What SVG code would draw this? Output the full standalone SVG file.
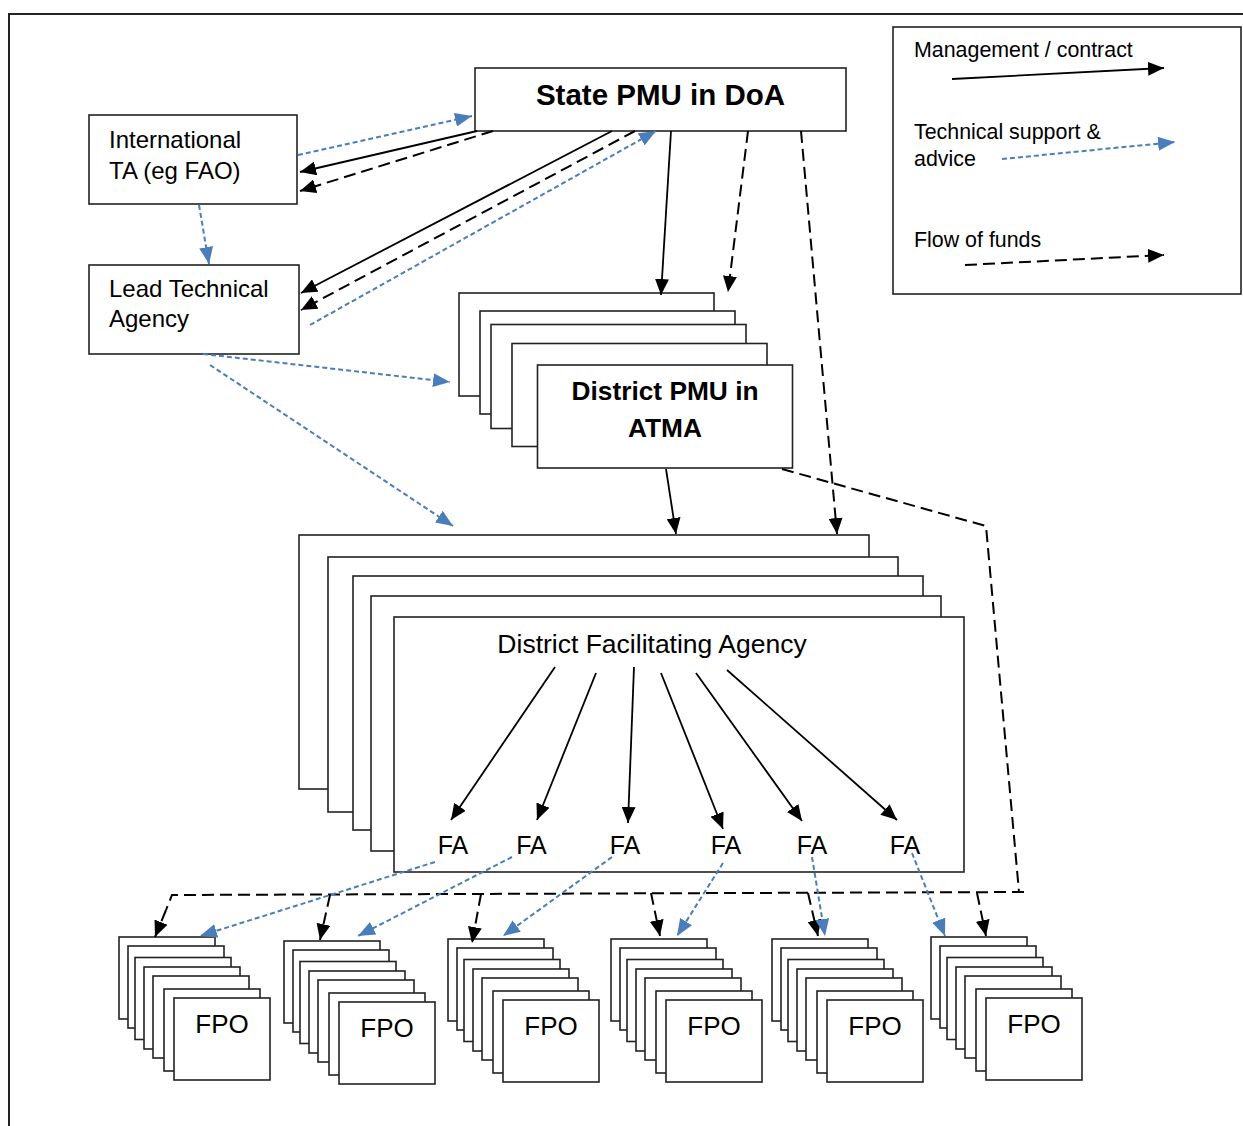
<svg xmlns="http://www.w3.org/2000/svg" width="1243" height="1126" viewBox="0 0 1243 1126">
<style>
  text { font-family: "Liberation Sans", Arial, sans-serif; fill: #000; }
  .box { fill: #fff; stroke: #222; stroke-width: 1.6; }
  .frame { fill: none; stroke: #222; stroke-width: 2; }
  .lbl { font-size: 24px; }
  .leg { font-size: 21.4px; }
  .bold { font-weight: bold; }
  .fa { font-size: 25px; text-anchor: middle; }
  .fpo { font-size: 26px; text-anchor: middle; }
  .mgmt { fill: none; stroke: #000; stroke-width: 1.8; marker-end: url(#ah-black); }
  .fund { fill: none; stroke: #000; stroke-width: 2; stroke-dasharray: 12 6; }
  .fund-a { fill: none; stroke: #000; stroke-width: 2; stroke-dasharray: 12 6; marker-end: url(#ah-black); }
  .tech { fill: none; stroke: #4A7EBB; stroke-width: 2; stroke-dasharray: 5 3; marker-end: url(#ah-blue); }
</style>
<defs>
  <marker id="ah-black" markerUnits="userSpaceOnUse" markerWidth="17" markerHeight="14" refX="16" refY="7" orient="auto">
    <path d="M0,0 L16,7 L0,14 z" fill="#000"/>
  </marker>
  <marker id="ah-blue" markerUnits="userSpaceOnUse" markerWidth="18" markerHeight="14" refX="17" refY="7" orient="auto">
    <path d="M0,0 L17,7 L0,14 z" fill="#4A7EBB"/>
  </marker>
</defs>

<rect width="1243" height="1126" fill="#fff"/>
<path class="frame" d="M9,1126 L9,14 L1243,14"/>

<g id="legend">
  <rect class="box" x="893" y="27" width="348" height="267"/>
  <text class="leg" x="914" y="57">Management / contract</text>
  <line class="mgmt" x1="952" y1="79" x2="1164" y2="68"/>
  <text class="leg" x="914" y="139">Technical support &amp;</text>
  <text class="leg" x="914" y="166">advice</text>
  <line class="tech" x1="1002" y1="159" x2="1175" y2="142"/>
  <text class="leg" x="914" y="247">Flow of funds</text>
  <line class="fund-a" x1="965" y1="265" x2="1164" y2="255"/>
</g>

<g id="state-pmu">
  <rect class="box" x="475" y="68" width="371" height="63"/>
  <text class="bold" x="660.5" y="105" font-size="29.5" text-anchor="middle">State PMU in DoA</text>
</g>

<g id="international-ta">
  <rect class="box" x="89" y="115" width="208" height="89"/>
  <text class="lbl" x="109" y="148">International</text>
  <text class="lbl" x="109" y="179">TA (eg FAO)</text>
</g>

<g id="lead-technical-agency">
  <rect class="box" x="89" y="265" width="210" height="89"/>
  <text class="lbl" x="109" y="297">Lead Technical</text>
  <text class="lbl" x="109" y="327">Agency</text>
</g>

<g id="district-pmu">
  <rect class="box" x="459" y="293" width="255" height="103"/>
  <rect class="box" x="480" y="311" width="255" height="103"/>
  <rect class="box" x="491" y="324.5" width="255" height="104"/>
  <rect class="box" x="512" y="343.5" width="255" height="103"/>
  <rect class="box" x="537.5" y="365" width="255" height="103"/>
  <text class="bold" x="665" y="400" font-size="26.3" text-anchor="middle">District PMU in</text>
  <text class="bold" x="665" y="437" font-size="26.3" text-anchor="middle">ATMA</text>
</g>

<g id="district-facilitating-agency">
  <rect class="box" x="299" y="535" width="570" height="254"/>
  <rect class="box" x="328" y="557" width="570" height="255"/>
  <rect class="box" x="353" y="576" width="570" height="254"/>
  <rect class="box" x="371" y="596" width="570" height="255"/>
  <rect class="box" x="394" y="617" width="570" height="255"/>
  <text x="652" y="653" font-size="26.5" text-anchor="middle">District Facilitating Agency</text>
</g>

<g id="fa-1"><text class="fa" x="453" y="854">FA</text></g>
<g id="fa-2"><text class="fa" x="531.5" y="854">FA</text></g>
<g id="fa-3"><text class="fa" x="625" y="854">FA</text></g>
<g id="fa-4"><text class="fa" x="726" y="854">FA</text></g>
<g id="fa-5"><text class="fa" x="812" y="854">FA</text></g>
<g id="fa-6"><text class="fa" x="905" y="854">FA</text></g>

<g id="fpo-1">
  <rect class="box" x="119" y="937" width="96" height="82"/>
  <rect class="box" x="128" y="946" width="96" height="82"/>
  <rect class="box" x="135" y="957.5" width="96" height="82"/>
  <rect class="box" x="144" y="967" width="96" height="82"/>
  <rect class="box" x="153" y="976" width="96" height="82"/>
  <rect class="box" x="164" y="989" width="96" height="82"/>
  <rect class="box" x="174" y="998" width="96" height="82"/>
  <text class="fpo" x="222" y="1033">FPO</text>
</g>
<g id="fpo-2">
  <rect class="box" x="284" y="941" width="96" height="82"/>
  <rect class="box" x="293" y="950" width="96" height="82"/>
  <rect class="box" x="300" y="961.5" width="96" height="82"/>
  <rect class="box" x="309" y="971" width="96" height="82"/>
  <rect class="box" x="318" y="980" width="96" height="82"/>
  <rect class="box" x="329" y="993" width="96" height="82"/>
  <rect class="box" x="339" y="1002" width="96" height="82"/>
  <text class="fpo" x="387" y="1037">FPO</text>
</g>
<g id="fpo-3">
  <rect class="box" x="448" y="939" width="96" height="82"/>
  <rect class="box" x="457" y="948" width="96" height="82"/>
  <rect class="box" x="464" y="959.5" width="96" height="82"/>
  <rect class="box" x="473" y="969" width="96" height="82"/>
  <rect class="box" x="482" y="978" width="96" height="82"/>
  <rect class="box" x="493" y="991" width="96" height="82"/>
  <rect class="box" x="503" y="1000" width="96" height="82"/>
  <text class="fpo" x="551" y="1035">FPO</text>
</g>
<g id="fpo-4">
  <rect class="box" x="611" y="939" width="96" height="82"/>
  <rect class="box" x="620" y="948" width="96" height="82"/>
  <rect class="box" x="627" y="959.5" width="96" height="82"/>
  <rect class="box" x="636" y="969" width="96" height="82"/>
  <rect class="box" x="645" y="978" width="96" height="82"/>
  <rect class="box" x="656" y="991" width="96" height="82"/>
  <rect class="box" x="666" y="1000" width="96" height="82"/>
  <text class="fpo" x="714" y="1035">FPO</text>
</g>
<g id="fpo-5">
  <rect class="box" x="772" y="939" width="96" height="82"/>
  <rect class="box" x="781" y="948" width="96" height="82"/>
  <rect class="box" x="788" y="959.5" width="96" height="82"/>
  <rect class="box" x="797" y="969" width="96" height="82"/>
  <rect class="box" x="806" y="978" width="96" height="82"/>
  <rect class="box" x="817" y="991" width="96" height="82"/>
  <rect class="box" x="827" y="1000" width="96" height="82"/>
  <text class="fpo" x="875" y="1035">FPO</text>
</g>
<g id="fpo-6">
  <rect class="box" x="931" y="937" width="96" height="82"/>
  <rect class="box" x="940" y="946" width="96" height="82"/>
  <rect class="box" x="947" y="957.5" width="96" height="82"/>
  <rect class="box" x="956" y="967" width="96" height="82"/>
  <rect class="box" x="965" y="976" width="96" height="82"/>
  <rect class="box" x="976" y="989" width="96" height="82"/>
  <rect class="box" x="986" y="998" width="96" height="82"/>
  <text class="fpo" x="1034" y="1033">FPO</text>
</g>

<g id="connectors">
  <line class="tech" x1="298" y1="155" x2="472" y2="116"/>
  <line class="mgmt" x1="477" y1="131" x2="300" y2="172"/>
  <line class="fund-a" x1="493" y1="131" x2="300" y2="191"/>
  <line class="tech" x1="199" y1="205" x2="209" y2="264"/>
  <line class="mgmt" x1="612" y1="131" x2="301" y2="293"/>
  <line class="fund-a" x1="635" y1="131" x2="301" y2="310"/>
  <line class="tech" x1="310" y1="325" x2="656" y2="131"/>
  <line class="tech" x1="203" y1="354" x2="450" y2="382"/>
  <line class="tech" x1="210" y1="365" x2="453" y2="526"/>
  <line class="mgmt" x1="671" y1="131" x2="661" y2="295"/>
  <line class="fund-a" x1="748" y1="131" x2="728" y2="292"/>
  <line class="fund-a" x1="801" y1="131" x2="837" y2="534"/>
  <line class="mgmt" x1="666" y1="469" x2="676" y2="534"/>
  <path class="fund" d="M782,469 L986,526 L1019,892 M1024,892 L172,895 L166,910"/>
  <line class="fund-a" x1="166" y1="910" x2="155" y2="937"/>
  <line class="fund-a" x1="330" y1="895" x2="320" y2="940"/>
  <line class="fund-a" x1="481" y1="894" x2="472" y2="943"/>
  <line class="fund-a" x1="651" y1="893" x2="660" y2="936"/>
  <line class="fund-a" x1="808" y1="893" x2="818" y2="936"/>
  <line class="fund-a" x1="977" y1="893" x2="986" y2="936"/>
  <line class="mgmt" x1="555" y1="667" x2="451" y2="820"/>
  <line class="mgmt" x1="596" y1="673" x2="537" y2="820"/>
  <line class="mgmt" x1="634" y1="667" x2="628" y2="823"/>
  <line class="mgmt" x1="661" y1="673" x2="723" y2="829"/>
  <line class="mgmt" x1="696" y1="673" x2="802" y2="821"/>
  <line class="mgmt" x1="727" y1="670" x2="897" y2="820"/>
  <line class="tech" x1="435" y1="862" x2="200" y2="936"/>
  <line class="tech" x1="512" y1="857" x2="358" y2="936"/>
  <line class="tech" x1="612" y1="857" x2="503" y2="936"/>
  <line class="tech" x1="723" y1="863" x2="677" y2="936"/>
  <line class="tech" x1="812" y1="857" x2="825" y2="936"/>
  <line class="tech" x1="912" y1="853" x2="945" y2="936"/>
</g>
</svg>
